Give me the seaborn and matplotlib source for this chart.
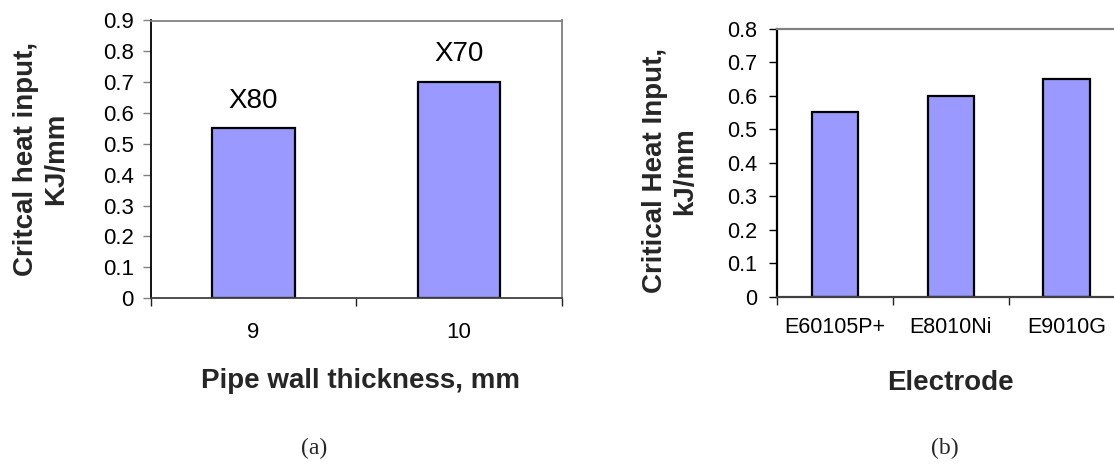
import matplotlib
matplotlib.use("Agg")
import matplotlib.pyplot as plt
import seaborn as sns
import pandas as pd

# ---- data ----
thickness = ["9", "10"]
heat_a = [0.55, 0.70]
grades = ["X80", "X70"]

electrodes = ["E60105P+", "E8010Ni", "E9010G"]
heat_b = [0.55, 0.60, 0.65]

yticks_a = [0, 0.1, 0.2, 0.3, 0.4, 0.5, 0.6, 0.7, 0.8, 0.9]
yticks_b = [0, 0.1, 0.2, 0.3, 0.4, 0.5, 0.6, 0.7, 0.8]

sns.set_theme(style="white")
plt.rcParams["font.family"] = ["Liberation Sans", "DejaVu Sans"]

W, H = 1114, 470
fig = plt.figure(figsize=(W / 100, H / 100), dpi=100)

def px_rect(x0, y0, x1, y1):
    return [x0 / W, (H - y1) / H, (x1 - x0) / W, (y1 - y0) / H]

ax1 = fig.add_axes(px_rect(150.5, 20.5, 562, 298))
ax2 = fig.add_axes(px_rect(777, 28.5, 777 + 3 * 115.8, 297))

BAR = "#9999FF"

df_a = pd.DataFrame({"t": thickness, "h": heat_a})
df_b = pd.DataFrame({"e": electrodes, "h": heat_b})

sns.barplot(data=df_a, x="t", y="h", color=BAR, saturation=1, width=0.4,
            edgecolor="black", linewidth=1.6, ax=ax1)
sns.barplot(data=df_b, x="e", y="h", color=BAR, saturation=1, width=0.4,
            edgecolor="black", linewidth=1.6, ax=ax2)

# bar annotations
for i, (v, g) in enumerate(zip(heat_a, grades)):
    ax1.annotate(g, (i, v), xytext=(0, 15), textcoords="offset points",
                 ha="center", va="baseline", fontsize=20, color="black")

def style_axes(ax, n, yticks, ylim, tick_fs, ylabel, xlabel, ylab_xy, xlab_xy,
               ytick_color, spine_lw, ypad, xpad):
    ax.set_xlim(-0.5, n - 0.5)
    ax.set_ylim(*ylim)
    ax.set_yticks(yticks)
    ax.set_yticklabels([("0" if t == 0 else f"{t:.1f}") for t in yticks])
    ax.set_xticks(range(n))
    ax.set_xticks([k - 0.5 for k in range(n + 1)], minor=True)
    ax.tick_params(axis="x", which="major", length=0, pad=xpad,
                   labelsize=tick_fs, labelcolor="black")
    ax.tick_params(axis="x", which="minor", length=6, width=1.0,
                   color="#202020", direction="out", bottom=True)
    ax.tick_params(axis="y", which="major", length=6, width=1.0,
                   color=ytick_color, direction="out", left=True,
                   pad=ypad, labelsize=tick_fs, labelcolor="black")
    ax.spines["left"].set_color("black")
    ax.spines["left"].set_linewidth(spine_lw)
    for s in ["top", "right"]:
        ax.spines[s].set_color("#808080")
        ax.spines[s].set_linewidth(spine_lw)
    ax.spines["bottom"].set_color("#404040")
    ax.spines["bottom"].set_linewidth(spine_lw)
    for s in ax.spines.values():
        s.set_visible(True)
    ax.set_ylabel(ylabel, fontsize=20, fontweight="bold", linespacing=1.2)
    ax.yaxis.label.set_va("center")
    ax.yaxis.label.set_ha("center")
    ax.yaxis.set_label_coords(*ylab_xy)
    ax.set_xlabel(xlabel, fontsize=20, fontweight="bold")
    ax.xaxis.label.set_va("center")
    ax.xaxis.set_label_coords(*xlab_xy)
    ax.grid(False)

style_axes(ax1, 2, yticks_a, (0, 0.9), 16,
           "Critcal heat input,\nKJ/mm", "Pipe wall thickness, mm",
           (-0.267, 0.5), (0.51, -0.30), "#808080", 1.3, 6, 17)
style_axes(ax2, 3, yticks_b, (0, 0.8), 15.5,
           "Critical Heat Input,\nkJ/mm", "Electrode",
           (-0.307, 0.47), (0.5, -0.32), "black", 1.6, 8, 14.5)

fig.text(314 / W, 1 - 448 / H, "(a)", ha="center", va="center",
         fontsize=17, family=["Liberation Serif", "DejaVu Serif"])
fig.text(945 / W, 1 - 448 / H, "(b)", ha="center", va="center",
         fontsize=17, family=["Liberation Serif", "DejaVu Serif"])

fig.savefig("out.png", dpi=100)
